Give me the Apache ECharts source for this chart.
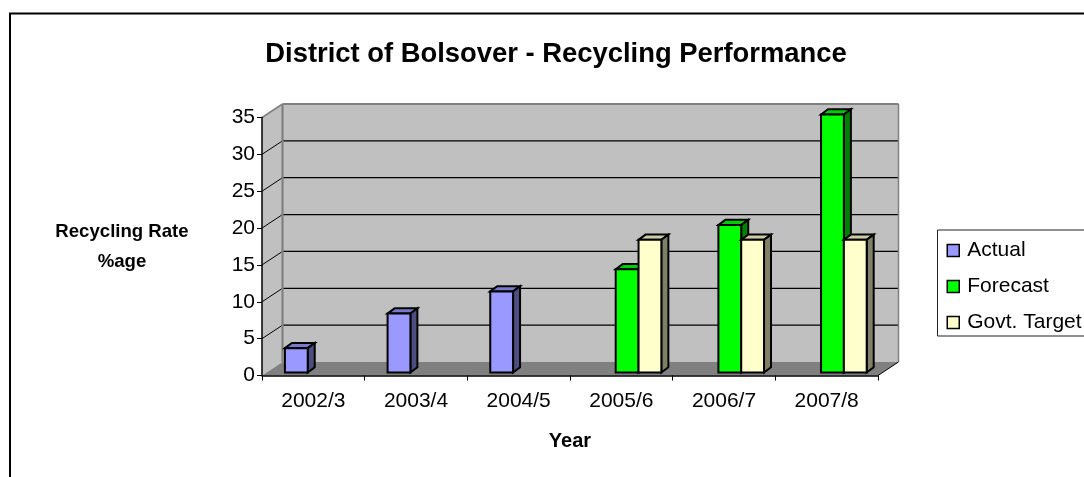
<!DOCTYPE html>
<html><head><meta charset="utf-8">
<style>html,body{margin:0;padding:0;background:#fff;overflow:hidden}#c{width:1084px;height:477px}</style>
<script src="https://cdn.jsdelivr.net/npm/echarts@6/dist/echarts.min.js"></script>
</head><body><div id="c"></div>
<script>
const categories = ['2002/3','2003/4','2004/5','2005/6','2006/7','2007/8'];
const actual = [3.3, 8, 11, null, null, null];
const forecast = [null, null, null, 14, 20, 35];
const govtTarget = [null, null, null, 18, 18, 18];
const yTicks = [0,5,10,15,20,25,30,35];

const FONT = '"Liberation Sans", Arial, sans-serif';
const WALL_DX = 20.5, WALL_DY = 13.5;
const BAR_DX = 7, BAR_DY = 5.2, SHIFT_X = 5.8, SHIFT_Y = -3;
const palette = [
  {front:'#9999ff', top:'#7a7acc', side:'#4d4d80'},
  {front:'#00ff00', top:'#00cc00', side:'#008000'},
  {front:'#ffffcc', top:'#cccca3', side:'#808066'}
];

function poly(pts, fill, stroke, lw){
  return {type:'polygon', shape:{points:pts}, style:{fill:fill, stroke:stroke, lineWidth:lw, lineJoin:'miter'}};
}
function seg(x1,y1,x2,y2,color,lw){
  return {type:'line', shape:{x1,y1,x2,y2}, style:{stroke:color, lineWidth:lw, fill:null}};
}
function wallsItem(params, api){
  const r = params.coordSys, L = r.x, R = r.x + r.width, T = r.y, B = r.y + r.height;
  const dx = WALL_DX, dy = WALL_DY, ch = [];
  ch.push(poly([[L,B],[L+dx,B-dy],[L+dx,T-dy],[L,T]], '#c0c0c0', null, 0));
  ch.push(poly([[L+dx,B-dy],[R+dx,B-dy],[R+dx,T-dy],[L+dx,T-dy]], '#c0c0c0', null, 0));
  ch.push(poly([[L,B],[R,B],[R+dx,B-dy],[L+dx,B-dy]], '#808080', null, 0));
  yTicks.forEach(function(v){
    const y = api.coord([0, v])[1];
    if (v > 0 && v < 35) {
      ch.push(seg(L,y,L+dx,y-dy,'#000',1));
      ch.push(seg(L+dx,y-dy,R+dx,y-dy,'#000',1.2));
    }
  });
  ch.push(seg(L,T,L+dx,T-dy,'#808080',1.5));
  ch.push(seg(L+dx,T-dy,R+dx,T-dy,'#808080',2));
  ch.push(seg(L+dx,T-dy,L+dx,B-dy,'#808080',2.2));
  ch.push(seg(R+dx,T-dy,R+dx,B-dy,'#808080',1.5));
  ch.push(seg(R,B,R+dx,B-dy,'#000',1));
  return {type:'group', children:ch};
}
function barItem(slot, colors){
  return function(params, api){
    const v = api.value(1);
    if (v == null || isNaN(v)) return null;
    const i = api.value(0);
    const band = api.size([1,0])[0];
    const start = api.coord([i,0])[0] - band/2;
    const w = band*2/9;
    const x = start + band/6 + slot*w + SHIFT_X;
    const y0 = api.coord([i,0])[1] + SHIFT_Y;
    const y1 = api.coord([i,v])[1] + SHIFT_Y;
    const dx = BAR_DX, dy = BAR_DY, lw = 2;
    return {type:'group', children:[
      poly([[x,y1],[x+dx,y1-dy],[x+w+dx,y1-dy],[x+w,y1]], colors.top, '#000', lw),
      poly([[x+w,y0],[x+w+dx,y0-dy],[x+w+dx,y1-dy],[x+w,y1]], colors.side, '#000', lw),
      poly([[x,y0],[x+w,y0],[x+w,y1],[x,y1]], colors.front, '#000', lw)
    ]};
  };
}
function pairs(vals){ return vals.map(function(v,i){ return [i, v]; }); }
function barSeries(name, vals, slot){
  return {name:name, type:'custom', z:4, encode:{x:0,y:1},
    itemStyle:{color:palette[slot].front, borderColor:'#000', borderWidth:1.5},
    renderItem:barItem(slot, palette[slot]), data:pairs(vals)};
}

const chart = echarts.init(document.getElementById('c'));
chart.setOption({
  animation:false,
  backgroundColor:'#fff',
  title:{text:'District of Bolsover - Recycling Performance', left:551, top:36, textAlign:'center',
    textStyle:{fontFamily:FONT, fontSize:27.4, fontWeight:'bold', color:'#000'}},
  legend:{left:937.5, top:230, orient:'vertical', padding:[10,40,3,9], itemWidth:12, itemHeight:12, itemGap:15,
    borderColor:'#222', borderWidth:1, backgroundColor:'#fff', icon:'rect',
    itemStyle:{borderColor:'#000', borderWidth:1.5},
    textStyle:{fontFamily:FONT, fontSize:21, color:'#000', padding:[0,0,0,3]},
    data:['Actual','Forecast','Govt. Target']},
  grid:{left:262, right:206, top:117.5, bottom:101.5},
  xAxis:{type:'category', data:categories, z:5,
    name:'Year', nameLocation:'middle', nameGap:56,
    nameTextStyle:{fontFamily:FONT, fontSize:20, fontWeight:'bold', color:'#000'},
    axisLine:{lineStyle:{color:'#000', width:1.5}},
    axisTick:{show:true, length:5, lineStyle:{color:'#000', width:1}},
    axisLabel:{fontFamily:FONT, fontSize:21, color:'#000', margin:15},
    splitLine:{show:false}},
  yAxis:{type:'value', min:0, max:35, interval:5, z:5,
    name:'Recycling Rate\n%age', nameLocation:'middle', nameGap:140, nameRotate:0,
    nameTextStyle:{fontFamily:FONT, fontSize:18.6, fontWeight:'bold', color:'#000', lineHeight:30, align:'center', verticalAlign:'middle'},
    axisLine:{show:true, lineStyle:{color:'#000', width:1.5}},
    axisTick:{show:true, length:5, lineStyle:{color:'#000', width:1}},
    axisLabel:{fontFamily:FONT, fontSize:21, color:'#000', margin:7},
    splitLine:{show:false}},
  graphic:[
    {type:'polyline', silent:true, z:0, shape:{points:[[10,477],[10,13.5],[1084,13.5]]}, style:{stroke:'#000', lineWidth:2, fill:null}}
  ],
  series:[
    {type:'custom', z:1, silent:true, encode:{x:0,y:1}, renderItem:wallsItem, data:[[0,0]], tooltip:{show:false}},
    barSeries('Actual', actual, 0),
    barSeries('Forecast', forecast, 1),
    barSeries('Govt. Target', govtTarget, 2)
  ]
});
</script></body></html>
